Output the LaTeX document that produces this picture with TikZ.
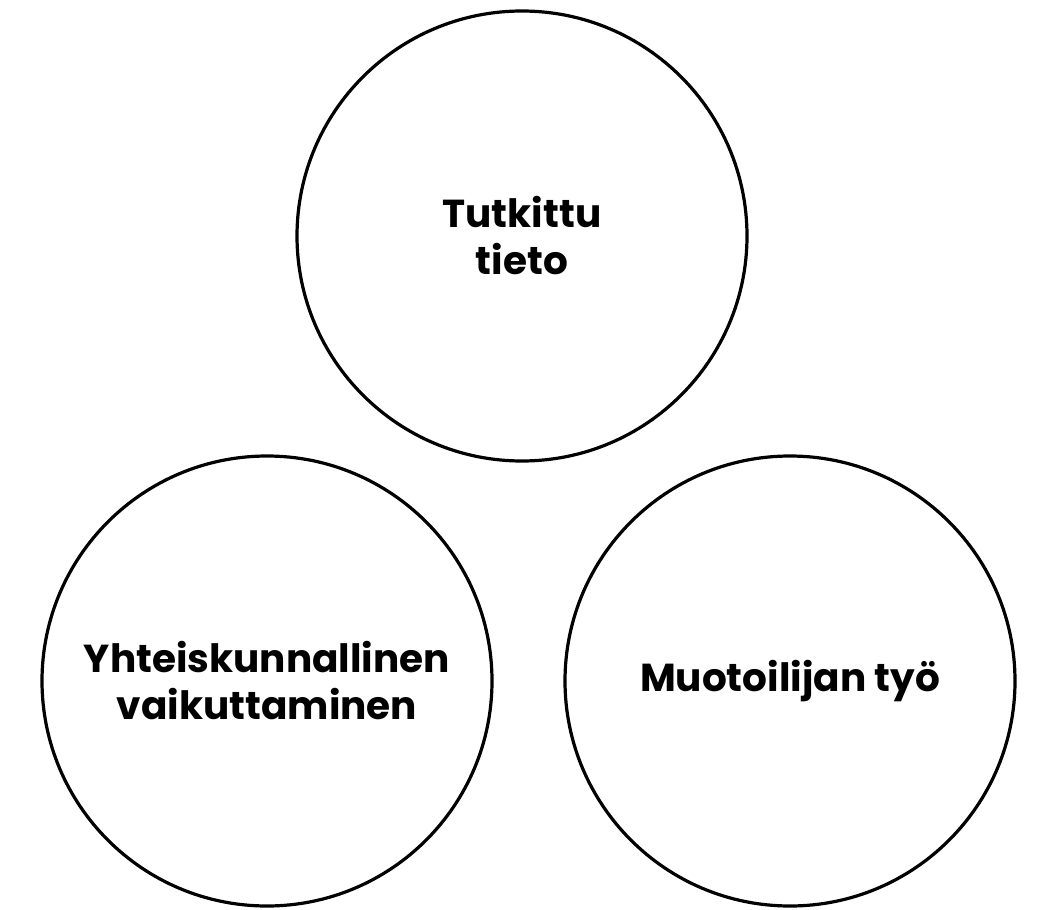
\documentclass[tikz,border=0pt]{standalone}
\usepackage{fontspec}
\setmainfont{Poppins}
\begin{document}
\begin{tikzpicture}[x=1pt,y=-1pt,
  bubble/.style={circle, draw=black, line width=3.2pt, minimum size=450pt, inner sep=0pt,
    align=center, font=\fontsize{39}{47}\selectfont\bfseries}]
\useasboundingbox (0,0) rectangle (1040,909);
\node[bubble] (top) at (522,236) {Tutkittu\\tieto};
\node[bubble] (left) at (267,681) {Yhteiskunnallinen\\vaikuttaminen};
\node[bubble] (right) at (790,681) {Muotoilijan työ};
\end{tikzpicture}
\end{document}
